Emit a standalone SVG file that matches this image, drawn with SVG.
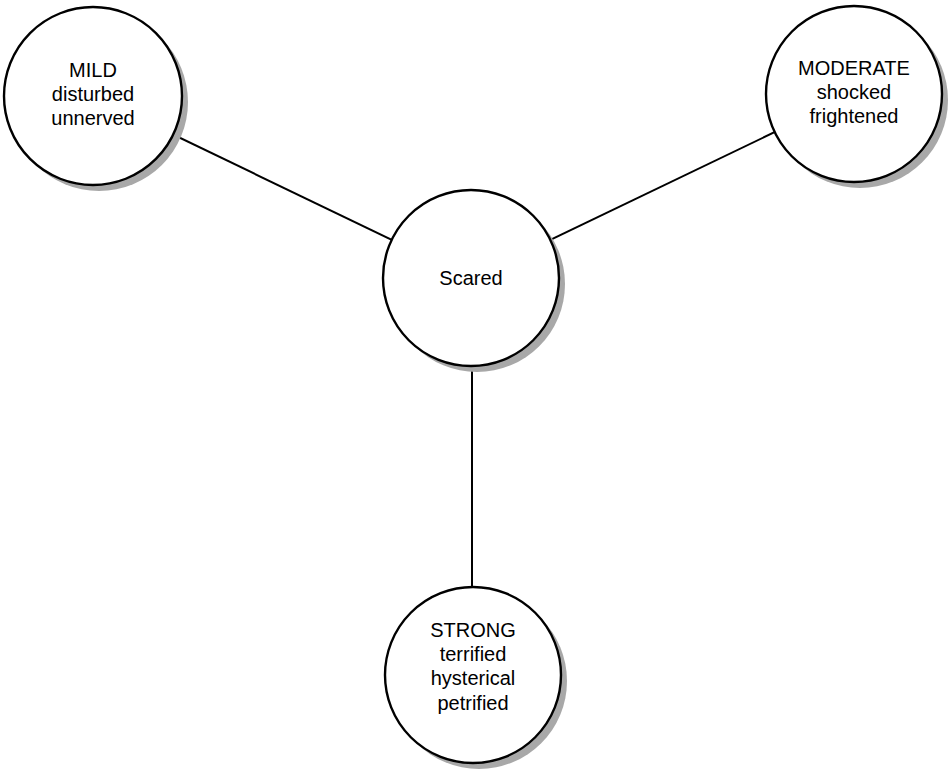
<svg xmlns="http://www.w3.org/2000/svg" width="951" height="769" viewBox="0 0 951 769">
  <style>
    .shadow { fill: #a8a8a8; }
    .disc { fill: #ffffff; stroke: #000000; stroke-width: 2.4; }
    .link { stroke: #000000; stroke-width: 2; fill: none; }
    .label { font-family: "Liberation Sans", Arial, sans-serif; font-size: 20px; fill: #000000; text-anchor: middle; }
  </style>

  <rect width="951" height="769" fill="#ffffff"/>

  <!-- connectors, centre to centre, hidden under the discs -->
  <g id="connectors">
    <line class="link" x1="93" y1="96" x2="471" y2="278"/>
    <line class="link" x1="854" y1="94" x2="471" y2="278"/>
    <line class="link" x1="472" y1="278" x2="472" y2="675"/>
  </g>

  <!-- each node: grey drop shadow offset down-right, then the outlined disc -->
  <g id="node-mild">
    <circle class="shadow" cx="99" cy="102" r="89"/>
    <circle class="disc" cx="93" cy="96" r="89"/>
    <text class="label" x="93" y="77">MILD</text>
    <text class="label" x="93" y="101">disturbed</text>
    <text class="label" x="93" y="125">unnerved</text>
  </g>

  <g id="node-moderate">
    <circle class="shadow" cx="860" cy="100" r="88"/>
    <circle class="disc" cx="854" cy="94" r="88"/>
    <text class="label" x="854" y="75">MODERATE</text>
    <text class="label" x="854" y="99">shocked</text>
    <text class="label" x="854" y="123">frightened</text>
  </g>

  <g id="node-scared">
    <circle class="shadow" cx="477" cy="284" r="88"/>
    <circle class="disc" cx="471" cy="278" r="88"/>
    <text class="label" x="471" y="285">Scared</text>
  </g>

  <g id="node-strong">
    <circle class="shadow" cx="479" cy="681" r="88"/>
    <circle class="disc" cx="473" cy="675" r="88"/>
    <text class="label" x="473" y="637">STRONG</text>
    <text class="label" x="473" y="661">terrified</text>
    <text class="label" x="473" y="685">hysterical</text>
    <text class="label" x="473" y="710">petrified</text>
  </g>
</svg>
